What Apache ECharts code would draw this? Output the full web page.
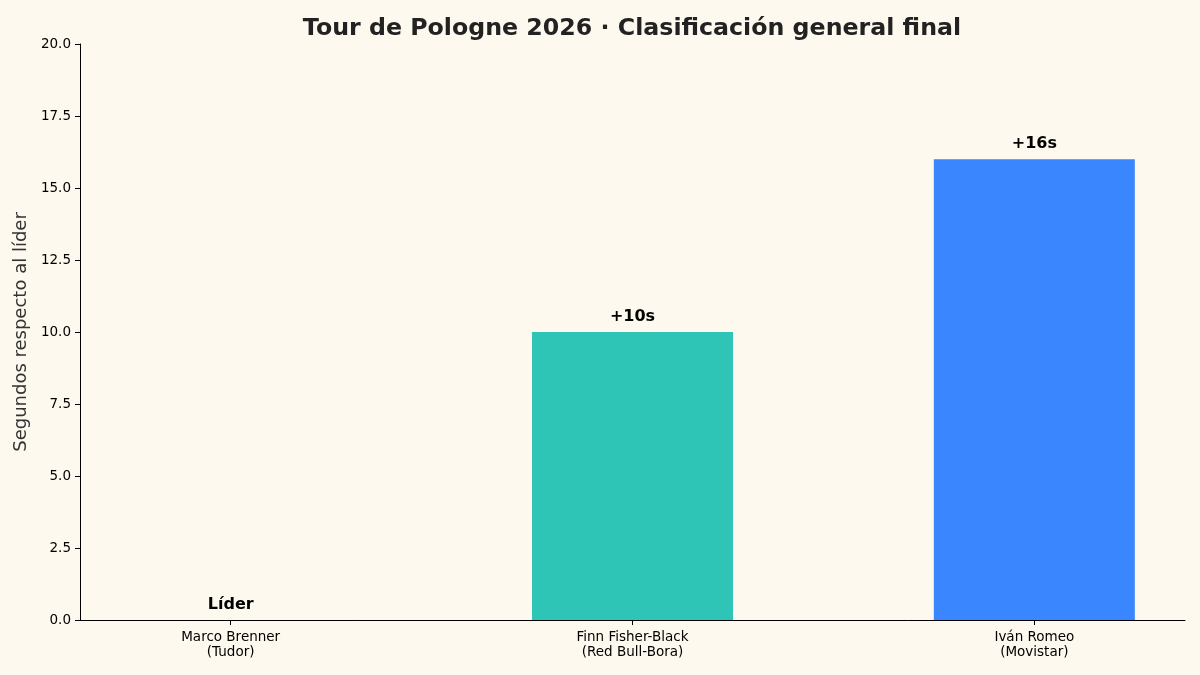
<!DOCTYPE html>
<html>
<head>
<meta charset="utf-8">
<script src="https://cdn.jsdelivr.net/npm/echarts@6/dist/echarts.min.js"></script>
<style>
  html, body { margin: 0; padding: 0; background: #fdf9ee; }
  #main { width: 1200px; height: 675px; }
</style>
</head>
<body>
<div id="main"></div>
<script>
const riders = ['Marco Brenner\n(Tudor)', 'Finn Fisher-Black\n(Red Bull-Bora)', 'Iván Romeo\n(Movistar)'];
const gaps = [0, 10, 16];
const gapLabels = ['Líder', '+10s', '+16s'];
const barColors = ['#2ec4b6', '#2ec4b6', '#3a86ff'];

const chart = echarts.init(document.getElementById('main'));

chart.setOption({
  backgroundColor: '#fdf9ee',
  animation: false,
  textStyle: { fontFamily: 'DejaVu Sans' },
  title: {
    text: 'Tour de Pologne 2026 · Clasificación general final',
    left: 627,
    top: 12,
    textAlign: 'center',
    textStyle: { fontSize: 23.7, fontWeight: 'bold', color: '#222', fontFamily: 'DejaVu Sans' }
  },
  grid: { left: 80, right: 15, top: 44, bottom: 55 },
  xAxis: {
    type: 'value',
    min: -0.375,
    max: 2.375,
    splitLine: { show: false },
    axisLine: { show: true, onZero: false, lineStyle: { color: '#000', width: 1 } },
    axisTick: { show: true, customValues: [0, 1, 2], length: 5, lineStyle: { color: '#000' } },
    axisLabel: {
      customValues: [0, 1, 2],
      formatter: v => riders[Math.round(v)],
      color: '#000',
      fontSize: 13.5,
      lineHeight: 15,
      margin: 10
    }
  },
  yAxis: {
    type: 'value',
    min: 0,
    max: 20,
    interval: 2.5,
    name: 'Segundos respecto al líder',
    nameLocation: 'middle',
    nameGap: 43,
    nameTextStyle: { fontSize: 18, color: '#333' },
    splitLine: { show: false },
    axisLine: { show: true, onZero: false, lineStyle: { color: '#000', width: 1 } },
    axisTick: { show: true, length: 5, lineStyle: { color: '#000' } },
    axisLabel: {
      formatter: v => v.toFixed(1),
      color: '#000',
      fontSize: 13.5,
      margin: 9
    }
  },
  series: [{
    type: 'bar',
    barWidth: 201,
    data: gaps.map((g, i) => ({
      value: [i, g],
      itemStyle: { color: barColors[i] }
    })),
    label: {
      show: true,
      position: 'top',
      distance: 7,
      formatter: p => gapLabels[p.dataIndex],
      fontSize: 16,
      fontWeight: 'bold',
      color: '#000'
    }
  }]
});
</script>
</body>
</html>
